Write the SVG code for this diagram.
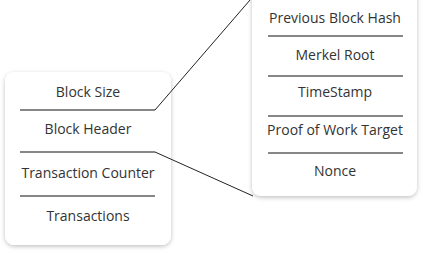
<svg xmlns="http://www.w3.org/2000/svg" width="423" height="254" viewBox="0 0 423 254">
  <defs>
    <filter id="shadow" x="-10%" y="-10%" width="120%" height="120%">
      <feDropShadow dx="0" dy="1.5" stdDeviation="2" flood-color="#000" flood-opacity="0.25"/>
    </filter>
  </defs>
  <style>
    .card { fill: #ffffff; filter: url(#shadow); }
    .sep { stroke: #111; stroke-width: 1.2; fill: none; }
    .conn { stroke: #222; stroke-width: 1; fill: none; }
    .label { font-family: "Open Sans", "DejaVu Sans", sans-serif; font-size: 14px; fill: #333; text-anchor: middle; }
  </style>

  <g id="block">
    <rect class="card" x="5" y="72" width="166" height="173" rx="9"/>
    <text class="label" x="88" y="97">Block Size</text>
    <line class="sep" x1="20" y1="110" x2="155" y2="110"/>
    <text class="label" x="88" y="134">Block Header</text>
    <line class="sep" x1="20" y1="152" x2="155" y2="152"/>
    <text class="label" x="88" y="178">Transaction Counter</text>
    <line class="sep" x1="20" y1="196" x2="155" y2="196"/>
    <text class="label" x="88" y="221">Transactions</text>
  </g>

  <g id="header">
    <rect class="card" x="252" y="-10" width="165" height="206" rx="9"/>
    <text class="label" x="335" y="23">Previous Block Hash</text>
    <line class="sep" x1="268" y1="36" x2="403" y2="36"/>
    <text class="label" x="335" y="60">Merkel Root</text>
    <line class="sep" x1="268" y1="76" x2="403" y2="76"/>
    <text class="label" x="335" y="97">TimeStamp</text>
    <line class="sep" x1="268" y1="116" x2="403" y2="116"/>
    <text class="label" x="335" y="135">Proof of Work Target</text>
    <line class="sep" x1="268" y1="153" x2="403" y2="153"/>
    <text class="label" x="335" y="176">Nonce</text>
  </g>

  <!-- links from the header row out to the expanded header card -->
  <g id="connectors">
    <line class="conn" x1="155" y1="110" x2="250" y2="0"/>
    <line class="conn" x1="155" y1="152" x2="253" y2="196"/>
  </g>
</svg>
